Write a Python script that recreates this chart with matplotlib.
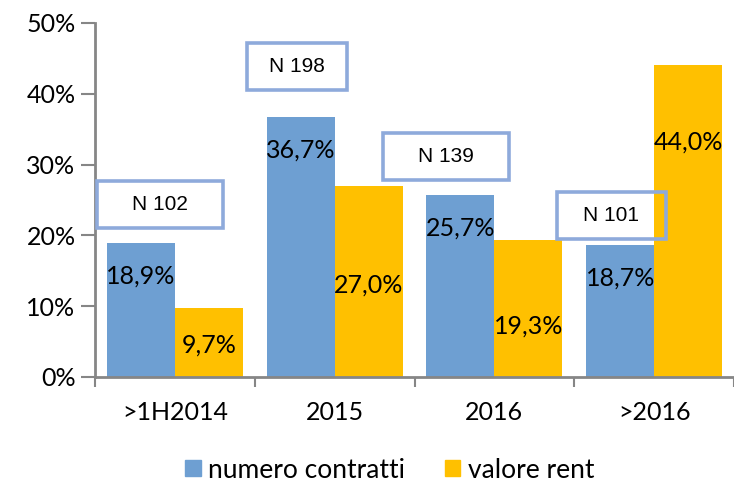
"""Contratti e valore rent per anno di scadenza: barre affiancate con box N."""

import matplotlib.pyplot as plt
import numpy as np
from matplotlib.patches import Patch, Rectangle

categories = [">1H2014", "2015", "2016", ">2016"]
numero_contratti = [18.9, 36.7, 25.7, 18.7]
valore_rent = [9.7, 27.0, 19.3, 44.0]
n_labels = ["N 102", "N 198", "N 139", "N 101"]
y_ticks = [0, 10, 20, 30, 40, 50]

# layout only: where the yellow value labels and the N boxes sit (data units)
_RENT_LABEL_Y = [4.5, 13.0, 7.2, 33.2]
_N_BOXES = [  # (x0, x1, y0, y1)
    (-0.49, 0.30, 21.0, 27.7),
    (0.45, 1.08, 40.5, 47.2),
    (1.30, 2.09, 27.8, 34.5),
    (2.39, 3.075, 19.5, 26.1),
]

_BLUE = "#6E9FD2"
_YELLOW = "#FFC000"
_BOX_EDGE = "#8EAADB"
_AXIS_GREY = "#868686"
_FONT = "Lato"
_BAR_W = 0.425


def main() -> None:
    plt.rcParams["font.family"] = [_FONT, "DejaVu Sans"]
    fig = plt.figure(figsize=(7.34, 4.83), dpi=100)
    ax = fig.add_axes([95 / 734, 106 / 483, 639 / 734, 354 / 483])

    x = np.arange(len(categories))
    ax.bar(x - _BAR_W / 2, numero_contratti, width=_BAR_W, color=_BLUE, zorder=2)
    ax.bar(x + _BAR_W / 2, valore_rent, width=_BAR_W, color=_YELLOW, zorder=2)

    for xi, v in zip(x, numero_contratti):
        ax.annotate(f"{v:.1f}%".replace(".", ","), (xi - _BAR_W / 2, v),
                    xytext=(0, -24), textcoords="offset points",
                    ha="center", va="center", fontsize=18, zorder=4)
    for xi, v, ly in zip(x, valore_rent, _RENT_LABEL_Y):
        ax.text(xi + _BAR_W / 2, ly, f"{v:.1f}%".replace(".", ","),
                ha="center", va="center", fontsize=18, zorder=4)

    for (x0, x1, y0, y1), label in zip(_N_BOXES, n_labels):
        ax.add_patch(Rectangle((x0, y0), x1 - x0, y1 - y0, facecolor="none",
                               edgecolor=_BOX_EDGE, linewidth=2.6, zorder=3,
                               clip_on=False))
        ax.text((x0 + x1) / 2, (y0 + y1) / 2, label, ha="center", va="center",
                fontsize=15, family="Liberation Sans", zorder=4)

    ax.set_xlim(-0.5, 3.5)
    ax.set_ylim(0, 50)
    ax.set_yticks(y_ticks)
    ax.set_yticklabels([f"{t}%" for t in y_ticks], fontsize=18)
    ax.set_xticks(x)
    ax.set_xticklabels(categories, fontsize=18)
    ax.set_xticks(np.arange(-0.5, 3.6, 1.0), minor=True)
    ax.tick_params(axis="x", which="major", length=0, pad=17)
    ax.tick_params(axis="x", which="minor", length=7, color=_AXIS_GREY, width=1.5)
    ax.tick_params(axis="y", length=10, color=_AXIS_GREY, width=1.5, pad=4)
    for side in ("top", "right"):
        ax.spines[side].set_visible(False)
    for side in ("left", "bottom"):
        ax.spines[side].set_color(_AXIS_GREY)
        ax.spines[side].set_linewidth(2)

    handles = [Patch(color=_BLUE, label="numero contratti"),
               Patch(color=_YELLOW, label="valore rent")]
    fig.legend(handles=handles, loc="center", bbox_to_anchor=(390 / 734, 13 / 483),
               ncol=2, frameon=False, fontsize=19, handlelength=0.58,
               handleheight=0.58, handletextpad=0.3, columnspacing=1.5)

    fig.savefig("out.png", dpi=100)
    plt.close(fig)


if __name__ == "__main__":
    main()
